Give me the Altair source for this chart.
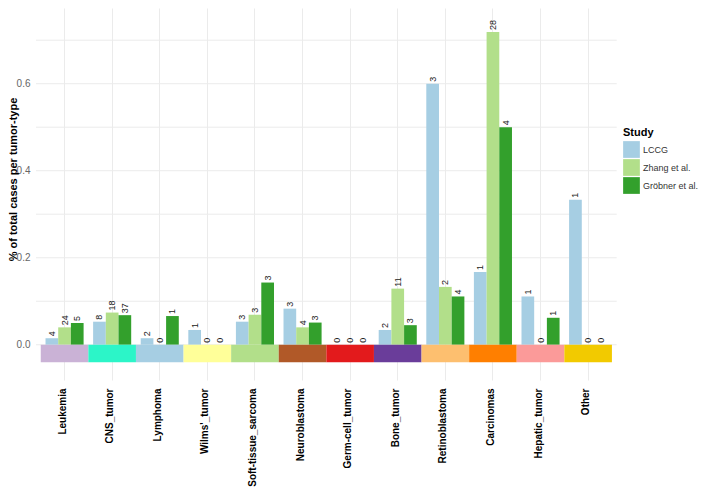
import altair as alt
import pandas as pd

categories = ["Leukemia", "CNS_tumor", "Lymphoma", "Wilms'_tumor", "Soft-tissue_sarcoma",
              "Neuroblastoma", "Germ-cell_tumor", "Bone_tumor", "Retinoblastoma",
              "Carcinomas", "Hepatic_tumor", "Other"]
studies = ["LCCG", "Zhang et al.", "Gröbner et al."]
study_colors = ["#A6CEE3", "#B2DF8A", "#33A02C"]
tile_colors = ["#CAB2D6", "#2CF5C8", "#A6CEE3", "#FFFF99", "#B2DF8A", "#B15928",
               "#E31A1C", "#6A3D9A", "#FDBF6F", "#FF7F00", "#FB9A99", "#F2CA00"]

lccg_frac = [0.015, 0.053, 0.015, 0.034, 0.053, 0.083, 0.0, 0.034, 0.600, 0.167, 0.111, 0.333]
zhang_frac = [0.040, 0.074, 0.0, 0.0, 0.069, 0.040, 0.0, 0.129, 0.133, 0.719, 0.0, 0.0]
grob_frac = [0.050, 0.068, 0.066, 0.0, 0.143, 0.051, 0.0, 0.045, 0.111, 0.500, 0.062, 0.0]

lccg_n = [4, 8, 2, 1, 3, 3, 0, 2, 3, 1, 1, 1]
zhang_n = [24, 18, 0, 0, 3, 4, 0, 11, 2, 28, 0, 0]
grob_n = [5, 37, 1, 0, 3, 3, 0, 3, 4, 4, 1, 0]

rows = []
for s, fr, nn in zip(studies, [lccg_frac, zhang_frac, grob_frac], [lccg_n, zhang_n, grob_n]):
    for c, f, n in zip(categories, fr, nn):
        rows.append({"tumor": c, "Study": s, "frac": f, "n": str(n)})
df = pd.DataFrame(rows)
tiles = pd.DataFrame({"tumor": categories, "col": tile_colors, "y0": 0.0, "y1": -0.04})

FONT = "Liberation Sans"
xscale = alt.Scale(domain=categories, paddingInner=0, paddingOuter=0.1)
yscale = alt.Scale(domain=[-0.081, 0.774], nice=False, zero=False)
xoff = alt.XOffset("Study:N", sort=studies,
                   scale=alt.Scale(domain=studies, paddingInner=0, paddingOuter=0.375))

xaxis = alt.Axis(title=None, labelAngle=-90, labelFont=FONT, labelFontSize=10,
                 labelFontWeight="bold", labelColor="black", labelPadding=8,
                 domain=False, ticks=False, grid=True, gridColor="#EBEBEB",
                 bandPosition=0.5, labelOffset=-2)
yaxis = alt.Axis(title="% of total cases per tumor-type", values=[0.0, 0.2, 0.4, 0.6],
                 format=".1f", labelFont=FONT, labelFontSize=10, labelColor="#666666",
                 titleFont=FONT, titleFontSize=11, titleFontWeight="bold", titleColor="black",
                 domain=False, ticks=False, grid=False, labelPadding=6,
                 titleX=-22, titleY=171, titleAngle=-90, titleAlign="center",
                 titleBaseline="middle")

grid_vals = pd.DataFrame({"g": [0.0, 0.1, 0.2, 0.3, 0.4, 0.5, 0.6, 0.7]})
hgrid = alt.Chart(grid_vals).mark_rule(color="#EBEBEB", strokeWidth=1).encode(
    y=alt.Y("g:Q", scale=yscale, axis=yaxis),
    x=alt.value(0), x2=alt.value(580.7)
)

bars = alt.Chart(df).mark_bar(opacity=1).encode(
    x=alt.X("tumor:N", sort=categories, scale=xscale, axis=xaxis),
    xOffset=xoff,
    y=alt.Y("frac:Q", scale=yscale),
    color=alt.Color("Study:N", sort=studies,
                    scale=alt.Scale(domain=studies, range=study_colors),
                    legend=alt.Legend(title="Study", orient="none", legendX=587, legendY=119,
                                      titleFont=FONT, titleFontSize=11, titleFontWeight="bold",
                                      titleColor="black", labelFont=FONT, labelFontSize=9,
                                      labelColor="#333333", symbolType="square",
                                      symbolSize=280, symbolStrokeWidth=0,
                                      symbolOpacity=1, rowPadding=1, titlePadding=3,
                                      labelOffset=3, labelLimit=200))
)

labels = alt.Chart(df).mark_text(angle=270, align="left", baseline="middle",
                                 font=FONT, fontSize=9, color="#222222", dx=2).encode(
    x=alt.X("tumor:N", sort=categories, scale=xscale),
    xOffset=xoff,
    y=alt.Y("frac:Q", scale=yscale),
    text="n:N"
)

tile_layer = alt.Chart(tiles).mark_rect().encode(
    x=alt.X("tumor:N", sort=categories, scale=xscale),
    y=alt.Y("y0:Q", scale=yscale),
    y2="y1:Q",
    color=alt.Color("col:N", scale=None)
)

chart = alt.layer(hgrid, bars, labels, tile_layer).properties(
    width=580.7, height=372,
    autosize=alt.AutoSizeParams(type="none"),
    padding={"left": 28, "top": 0, "right": 83, "bottom": 110}
).configure(background="white", view=alt.ViewConfig(stroke=None))

chart.save("out.html", embed_options={"renderer": "svg", "actions": False})
